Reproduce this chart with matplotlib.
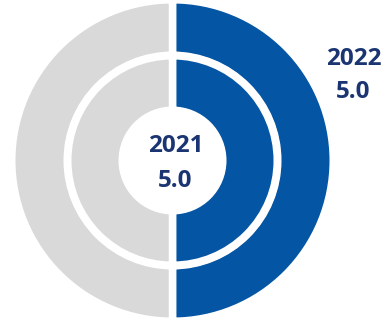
import matplotlib
matplotlib.use("Agg")
import matplotlib.pyplot as plt

# Scores out of a 10-point scale, shown as filled share of each ring
years = ["2021", "2022"]
scores = [5.0, 5.0]
scale_max = 10.0

blue = "#0455A4"
gray = "#D9D9D9"
navy = "#1B3572"

fig = plt.figure(figsize=(3.83, 3.21), dpi=100)
ax = fig.add_axes([0, 0, 1, 1])

cx, cy = 172.5, 160.5
edge = dict(edgecolor="white", linewidth=5.4)

# Outer ring: 2022
ax.pie([scores[1], scale_max - scores[1]], colors=[blue, gray],
       startangle=90, counterclock=False, center=(cx, cy), radius=160.75,
       wedgeprops=dict(width=55.5, **edge), frame=True)
# Inner ring: 2021
ax.pie([scores[0], scale_max - scores[0]], colors=[blue, gray],
       startangle=90, counterclock=False, center=(cx, cy), radius=104.75,
       wedgeprops=dict(width=54.5, **edge), frame=True)
ax.set_xlim(0, 383)
ax.set_ylim(0, 321)
ax.set_aspect("equal")
ax.axis("off")

font = dict(family="Open Sans", fontweight="bold", fontsize=17.5, color=navy,
            ha="center", va="baseline")
ax.text(175.5, 169, years[0], **font)
ax.text(175.5, 134, f"{scores[0]:.1f}", **font)
ax.text(353.5, 256, years[1], **font)
ax.text(353.5, 223, f"{scores[1]:.1f}", **font)

fig.savefig("out.png", dpi=100)
